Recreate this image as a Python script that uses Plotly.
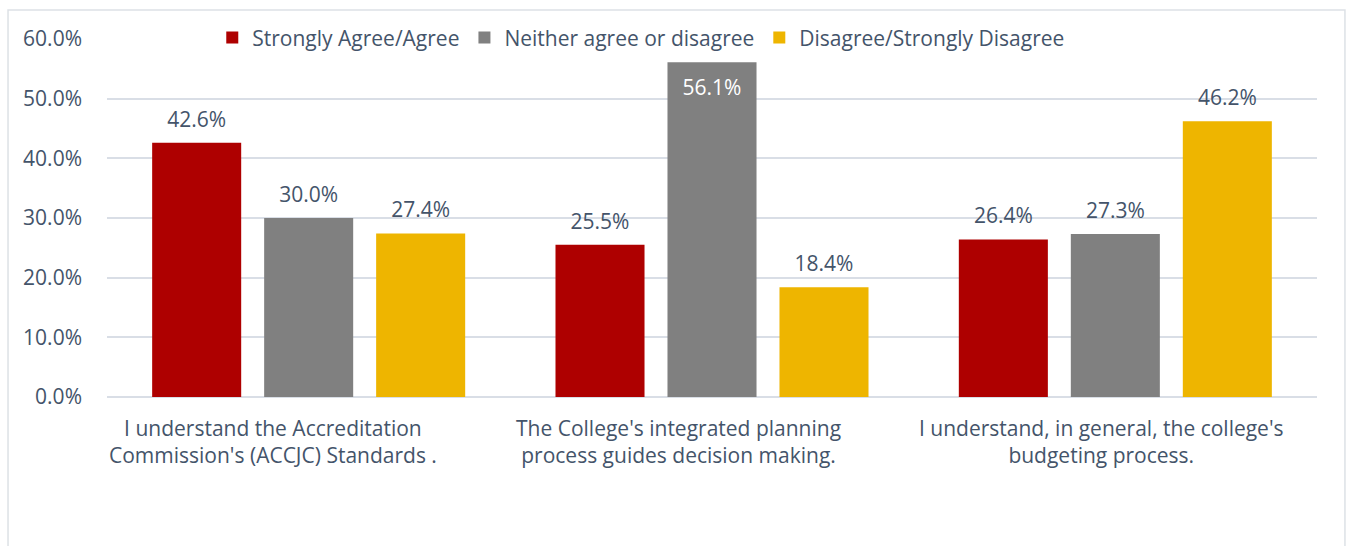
import plotly.graph_objects as go

categories = [
    "I understand the Accreditation<br>Commission's (ACCJC) Standards .",
    "The College's integrated planning<br>process guides decision making.",
    "I understand, in general, the college's<br>budgeting process.",
]
series_names = ["Strongly Agree/Agree", "Neither agree or disagree", "Disagree/Strongly Disagree"]
agree = [42.6, 25.5, 26.4]
neither = [30.0, 56.1, 27.3]
disagree = [27.4, 18.4, 46.2]
series_values = [agree, neither, disagree]
series_colors = ["#AE0000", "#808080", "#EEB500"]

TEXT = "#44546A"
FONT = "Open Sans"
FS = 21

fig = go.Figure()
for k, (name, vals, color) in enumerate(zip(series_names, series_values, series_colors)):
    fig.add_trace(go.Bar(
        x=[0, 1, 2],
        y=vals,
        name=name,
        offsetgroup=str(k),
        marker=dict(color=color, line=dict(width=0)),
        hoverinfo="skip",
    ))

# value labels: invisible points on the bar tops, grouped like the bars;
# tall bars carry their label inside the top of the bar
for k, vals in enumerate(series_values):
    inside = [v > 50 for v in vals]
    fig.add_trace(go.Scatter(
        x=[0, 1, 2],
        y=vals,
        mode="markers+text",
        offsetgroup=str(k),
        marker=dict(size=[26 if i else 16 for i in inside], opacity=0),
        text=[f"{v:.1f}%" for v in vals],
        textposition=["bottom center" if i else "top center" for i in inside],
        textfont=dict(size=FS, family=FONT,
                      color=["white" if i else TEXT for i in inside]),
        showlegend=False,
        hoverinfo="skip",
        cliponaxis=False,
    ))

# category labels as annotations under each group
label_shift = [-36, -34, -14]
for i, (cat, dx) in enumerate(zip(categories, label_shift)):
    fig.add_annotation(
        x=i, y=0, xref="x", yref="paper",
        text=cat, showarrow=False,
        xanchor="center", yanchor="top",
        xshift=dx, yshift=-15,
        font=dict(size=FS, color=TEXT, family=FONT),
        align="center",
    )

# outer chart frame
fig.add_shape(
    type="rect", xref="paper", yref="paper",
    x0=-0.0818, x1=1.0231, y0=-1.0, y1=1.081,
    line=dict(color="#DDE1E6", width=1.5),
    fillcolor="rgba(0,0,0,0)", layer="below",
)

fig.update_layout(
    width=1346, height=546,
    margin=dict(l=107, r=29, t=39, b=149),
    paper_bgcolor="white", plot_bgcolor="white",
    barmode="group", bargap=0.167, bargroupgap=0.205,
    scattermode="group", scattergap=0.167,
    font=dict(family=FONT, color=TEXT, size=FS),
    showlegend=True,
    legend=dict(
        orientation="h", x=0.087, y=1.003, xanchor="left", yanchor="middle",
        font=dict(size=FS, color=TEXT, family=FONT),
        bgcolor="rgba(0,0,0,0)", itemwidth=30, traceorder="normal",
    ),
    xaxis=dict(
        range=[-0.5, 2.5], showticklabels=False, showgrid=False,
        zeroline=False, showline=False, ticks="", fixedrange=True,
    ),
    yaxis=dict(
        range=[0, 60], dtick=10, tickformat=".1f", ticksuffix="%",
        showgrid=True, gridcolor="#D9DEE6", gridwidth=1.5,
        zeroline=True, zerolinecolor="#D9DEE6", zerolinewidth=1.5,
        showline=False, ticks="", ticklabelstandoff=24,
        tickfont=dict(size=FS, color=TEXT, family=FONT),
    ),
)

fig.write_html("out.html")
